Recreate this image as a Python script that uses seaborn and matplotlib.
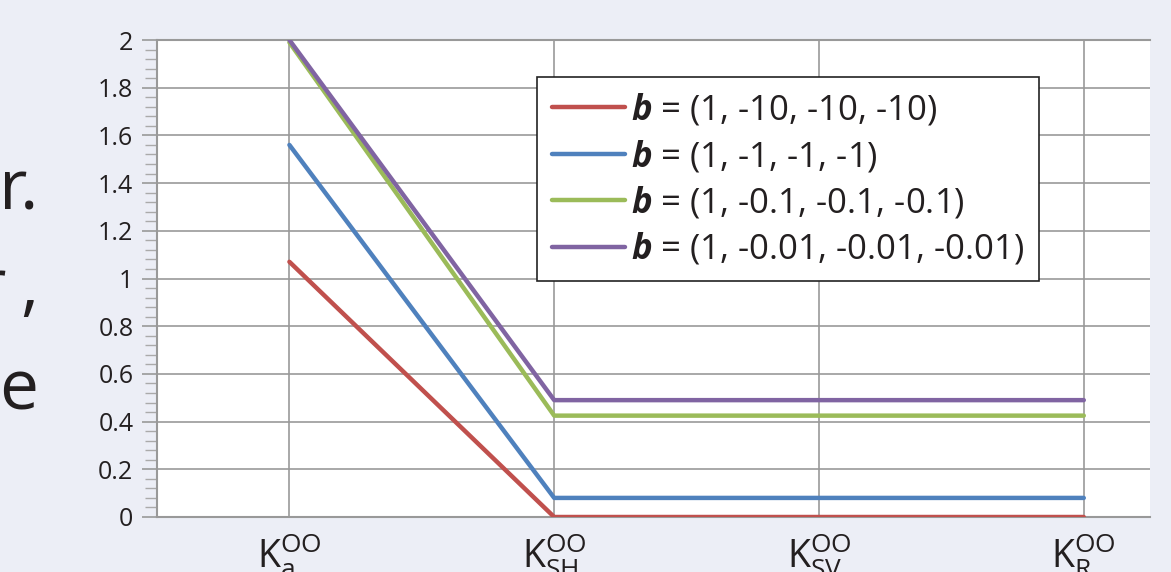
import numpy as np
import pandas as pd
import matplotlib
matplotlib.use("Agg")
import matplotlib.pyplot as plt
import seaborn as sns
from matplotlib.ticker import MultipleLocator, FuncFormatter

# ---- data ----
categories = [r"K$_\mathregular{a}^\mathregular{OO}$", r"K$_\mathregular{SH}^\mathregular{OO}$",
              r"K$_\mathregular{SV}^\mathregular{OO}$", r"K$_\mathregular{R}^\mathregular{OO}$"]
series_names = [r"$\mathbfit{b}$ = (1, -10, -10, -10)",
                r"$\mathbfit{b}$ = (1, -1, -1, -1)",
                r"$\mathbfit{b}$ = (1, -0.1, -0.1, -0.1)",
                r"$\mathbfit{b}$ = (1, -0.01, -0.01, -0.01)"]
vals_b10 = [1.07, 0.0, 0.0, 0.0]
vals_b1 = [1.56, 0.08, 0.08, 0.08]
vals_b01 = [1.99, 0.425, 0.425, 0.425]
vals_b001 = [2.0, 0.49, 0.49, 0.49]
y_ticks = [0, 0.2, 0.4, 0.6, 0.8, 1, 1.2, 1.4, 1.6, 1.8, 2]
side_text = ["er.", "r ,", "e"]

colors = ["#c0504d", "#4f81bd", "#9bbb59", "#8064a2"]
BG = "#eceef6"
INK = "#231f20"

sns.set_theme(style="white")
plt.rcParams['font.family'] = ['Open Sans', 'DejaVu Sans']
plt.rcParams['mathtext.fontset'] = 'custom'
plt.rcParams['mathtext.rm'] = 'Open Sans'
plt.rcParams['mathtext.it'] = 'Open Sans:italic'
plt.rcParams['mathtext.bf'] = 'Open Sans:bold'
plt.rcParams['mathtext.bfit'] = 'Open Sans:italic:bold'

rows = []
all_vals = [vals_b10, vals_b1, vals_b01, vals_b001]
for name, vals in zip(series_names, all_vals):
    for i, v in enumerate(vals):
        rows.append({"x": i, "y": v, "series": name})
df = pd.DataFrame(rows)

fig = plt.figure(figsize=(11.71, 5.72), dpi=100, facecolor=BG)
ax = fig.add_axes([157/1171, 1 - 517/572, (1150 - 157)/1171, (517 - 40)/572])
ax.set_facecolor("white")

sns.lineplot(data=df, x="x", y="y", hue="series", hue_order=series_names,
             palette=colors, linewidth=3.2, ax=ax, legend=True,
             solid_capstyle="round", zorder=3)

ax.set_xlim(-0.5, 3.25)
ax.set_ylim(0, 2)
ax.set_xticks(range(len(categories)))
ax.set_xticklabels(categories, fontsize=27)
ax.set_yticks(y_ticks)
ax.yaxis.set_major_formatter(FuncFormatter(lambda v, p: f"{v:g}"))
ax.yaxis.set_minor_locator(MultipleLocator(0.04))
ax.tick_params(axis='y', which='major', length=11, width=1.2, color="#999999",
               labelsize=18, pad=6, left=True, labelcolor=INK)
ax.tick_params(axis='y', which='minor', length=8.5, width=1.0, color="#aaaaaa", left=True)
ax.tick_params(axis='x', length=0, pad=10, labelcolor=INK)
ax.set_xlabel("")
ax.set_ylabel("")

ax.grid(True, which='major', color="#999999", linewidth=1.2, zorder=0)
for s in ["left", "bottom", "top"]:
    ax.spines[s].set_color("#999999")
    ax.spines[s].set_linewidth(1.5)
ax.spines["right"].set_visible(False)

leg = ax.legend(loc="upper left", bbox_to_anchor=((537 - 157)/993, 1 - (77 - 40)/477),
                fontsize=25, frameon=True, fancybox=False, handlelength=2.1,
                handletextpad=0.2, borderpad=0.42, labelspacing=0.3, borderaxespad=0)
leg.get_frame().set_edgecolor("#222222")
leg.get_frame().set_linewidth(1.2)
leg.get_frame().set_alpha(1)
for h in leg.get_lines():
    h.set_linewidth(3.2)
    h.set_solid_capstyle("round")
for t in leg.get_texts():
    t.set_color(INK)

# partially visible slide text on the left, placed glyph by glyph (right ink edges in px)
glyph_right = [[1, 27, 38], [6, None, 38], [38]]
baselines = [209, 308, 410]
for t, yb, rights in zip(side_text, baselines, glyph_right):
    for ch, xr in zip(t, rights):
        if ch == " " or xr is None:
            continue
        fig.text(xr/1171, 1 - yb/572, ch, ha="right", va="baseline", fontsize=50, color=INK)

fig.savefig("out.png", dpi=100, facecolor=BG)
